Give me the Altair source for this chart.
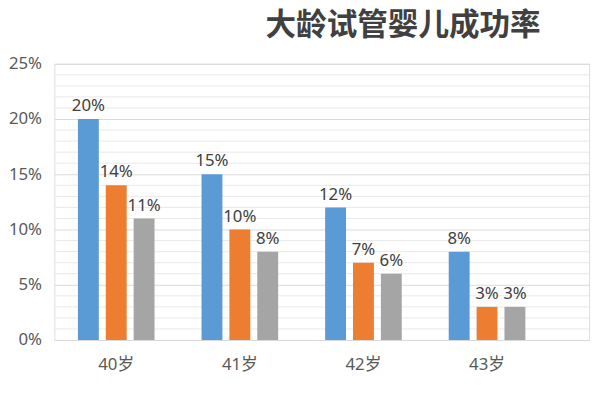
import altair as alt
import pandas as pd

ages = ["40岁", "41岁", "42岁", "43岁"]
series = ["系列1", "系列2", "系列3"]
s1 = [0.20, 0.15, 0.12, 0.08]
s2 = [0.14, 0.10, 0.07, 0.03]
s3 = [0.11, 0.08, 0.06, 0.03]
colors = ["#5B9BD5", "#ED7D31", "#A5A5A5"]
major_ticks = [0, 0.05, 0.10, 0.15, 0.20, 0.25]
minor_ticks = [0.01, 0.02, 0.03, 0.04, 0.06, 0.07, 0.08, 0.09,
               0.11, 0.12, 0.13, 0.14, 0.16, 0.17, 0.18, 0.19,
               0.21, 0.22, 0.23, 0.24]

rows = []
for name, vals in zip(series, [s1, s2, s3]):
    for a, v in zip(ages, vals):
        rows.append({"age": a, "series": name, "value": v})
df = pd.DataFrame(rows)
minor_df = pd.DataFrame({"value": minor_ticks})

FONT = "Noto Sans, Noto Sans CJK SC, sans-serif"

x_enc = alt.X(
    "age:N", sort=ages,
    scale=alt.Scale(paddingInner=0.38, paddingOuter=0.353, align=0.27),
    axis=alt.Axis(title=None, labelAngle=0, ticks=False, labelPadding=17,
                  labelFontSize=17, labelColor="#595959", labelFont=FONT,
                  domainColor="#D9D9D9", grid=False),
)
xo_enc = alt.XOffset("series:N", sort=series,
                     scale=alt.Scale(paddingInner=0.25, paddingOuter=0))
y_enc = alt.Y(
    "value:Q",
    scale=alt.Scale(domain=[0, 0.25], nice=False),
    axis=alt.Axis(values=major_ticks, format=".0%", title=None, ticks=False,
                  domain=False, labelPadding=13, gridColor="#D9D9D9",
                  labelFontSize=17, labelColor="#595959", labelFont=FONT),
)

minor = alt.Chart(minor_df).mark_rule(color="#E9E9E9", strokeWidth=1).encode(
    y=alt.Y("value:Q")
)

bars = alt.Chart(df).mark_bar().encode(
    x=x_enc,
    xOffset=xo_enc,
    y=y_enc,
    color=alt.Color("series:N", sort=series,
                    scale=alt.Scale(domain=series, range=colors), legend=None),
)

labels = alt.Chart(df).mark_text(
    baseline="bottom", dy=-4, fontSize=17, color="#404040", font=FONT
).encode(
    x=x_enc,
    xOffset=xo_enc,
    y=y_enc,
    text=alt.Text("value:Q", format=".0%"),
)

chart = alt.layer(minor, bars, labels).properties(
    width=542,
    height=280,
    autosize="none",
    padding={"left": 47, "top": 54, "right": 5, "bottom": 40},
    title=alt.TitleParams(
        "大龄试管婴儿成功率", anchor="start", frame="group", dx=214, dy=17,
        fontSize=31, fontWeight="bold", font="Noto Sans CJK SC",
        color="#404040", baseline="alphabetic", offset=6,
    ),
).configure_view(stroke=None).configure(background="white")

chart.save("out.html", embed_options={"renderer": "svg", "actions": False})
